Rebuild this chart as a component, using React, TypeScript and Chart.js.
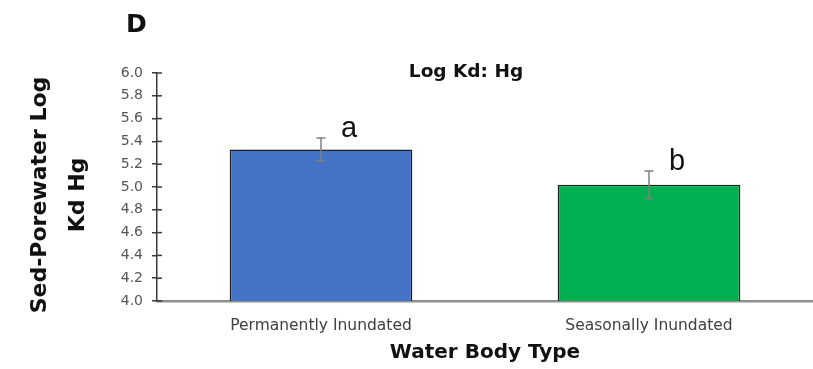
import React, { useEffect, useRef } from "react";
import { Chart, registerables } from "chart.js";

Chart.register(...registerables);

const categories = ["Permanently Inundated", "Seasonally Inundated"];
const values = [5.33, 5.02];
const errors = [0.1, 0.12];
const letters = ["a", "b"];
const barColors = ["#4472C4", "#00B050"];
const yTicks = [4.0, 4.2, 4.4, 4.6, 4.8, 5.0, 5.2, 5.4, 5.6, 5.8, 6.0];
const chartTitle = "Log Kd: Hg";
const panelLabel = "D";
const yTitle = ["Sed-Porewater Log", "Kd Hg"];
const xTitle = "Water Body Type";

const FONT = '"DejaVu Sans", sans-serif';
const AXIS_DARK = "#3a3a3a";

const overlay = {
  id: "overlay",
  afterDatasetsDraw(chart: any) {
    const ctx = chart.ctx;
    const y = chart.scales.y;
    const area = chart.chartArea;
    ctx.save();
    // inner half of tick marks
    ctx.strokeStyle = AXIS_DARK;
    ctx.lineWidth = 1.5;
    y.ticks.forEach((t: any) => {
      const py = y.getPixelForValue(t.value);
      ctx.beginPath();
      ctx.moveTo(area.left, py);
      ctx.lineTo(area.left + 5, py);
      ctx.stroke();
    });
    // error bars + letters
    const meta = chart.getDatasetMeta(0);
    meta.data.forEach((bar: any, i: number) => {
      const cx = bar.x;
      const top = y.getPixelForValue(values[i] + errors[i]);
      const bot = y.getPixelForValue(values[i] - errors[i]);
      ctx.strokeStyle = "#808080";
      ctx.lineWidth = 1.5;
      ctx.beginPath();
      ctx.moveTo(cx, top);
      ctx.lineTo(cx, bot);
      ctx.moveTo(cx - 4.5, top);
      ctx.lineTo(cx + 4.5, top);
      ctx.moveTo(cx - 4.5, bot);
      ctx.lineTo(cx + 4.5, bot);
      ctx.stroke();
      ctx.fillStyle = "#111";
      ctx.font = '29px "Liberation Sans", Arial, sans-serif';
      ctx.textAlign = "left";
      ctx.textBaseline = "alphabetic";
      ctx.fillText(letters[i], cx + 20, top - 1);
    });
    // chart title
    ctx.fillStyle = "#111";
    ctx.font = "bold 18.5px " + FONT;
    ctx.textAlign = "center";
    ctx.textBaseline = "alphabetic";
    ctx.fillText(chartTitle, area.left + 309, area.top + 4);
    // panel label
    ctx.font = "bold 25px " + FONT;
    ctx.textAlign = "left";
    ctx.fillText(panelLabel, 126, 32);
    // y title
    ctx.font = "bold 22px " + FONT;
    ctx.textAlign = "center";
    ctx.textBaseline = "middle";
    const cy = (area.top + area.bottom) / 2 + 8;
    ctx.translate(0, cy);
    ctx.rotate(-Math.PI / 2);
    ctx.fillText(yTitle[0], 0, 40);
    ctx.fillText(yTitle[1], 0, 78);
    ctx.restore();
  },
};

export default function App() {
  const ref = useRef<HTMLCanvasElement | null>(null);
  useEffect(() => {
    document.body.style.margin = "0";
    const chart = new Chart(ref.current as HTMLCanvasElement, {
      type: "bar",
      data: {
        labels: categories,
        datasets: [
          {
            data: values,
            backgroundColor: barColors,
            borderColor: "#1e1e1e",
            borderWidth: 1.5,
            barPercentage: 0.557,
            categoryPercentage: 1,
          },
        ],
      },
      options: {
        responsive: false,
        animation: false,
        layout: { padding: { top: 73, right: 0, bottom: 0, left: 0 } },
        plugins: { legend: { display: false }, tooltip: { enabled: false }, title: { display: false } },
        scales: {
          x: {
            offset: true,
            grid: { display: false, drawTicks: false },
            border: { display: true, color: "#8f8f8f", width: 2.5 },
            ticks: { color: "#404040", font: { family: FONT, size: 15.5 }, padding: 16 },
            title: {
              display: true,
              text: xTitle,
              color: "#111",
              font: { family: FONT, size: 20, weight: "bold" },
              padding: { top: 4, bottom: 4 },
            },
            afterFit: (s: any) => {
              s.height = 68;
            },
          },
          y: {
            min: 4,
            max: 6,
            afterBuildTicks: (s: any) => {
              s.ticks = yTicks.map((v) => ({ value: v }));
            },
            grid: { drawOnChartArea: false, drawTicks: true, tickLength: 5, color: AXIS_DARK, lineWidth: 1.5 },
            border: { display: true, color: AXIS_DARK, width: 1.5 },
            ticks: {
              color: "#555555",
              font: { family: FONT, size: 14 },
              padding: 9,
              callback: (v: any) => Number(v).toFixed(1),
            },
            afterFit: (s: any) => {
              s.width = 157;
            },
          },
        },
      },
      plugins: [overlay],
    });
    return () => chart.destroy();
  }, []);
  return (
    <div style={{ position: "absolute", left: 0, top: 0 }}>
      <canvas ref={ref} width={813} height={369} style={{ display: "block" }} />
    </div>
  );
}
